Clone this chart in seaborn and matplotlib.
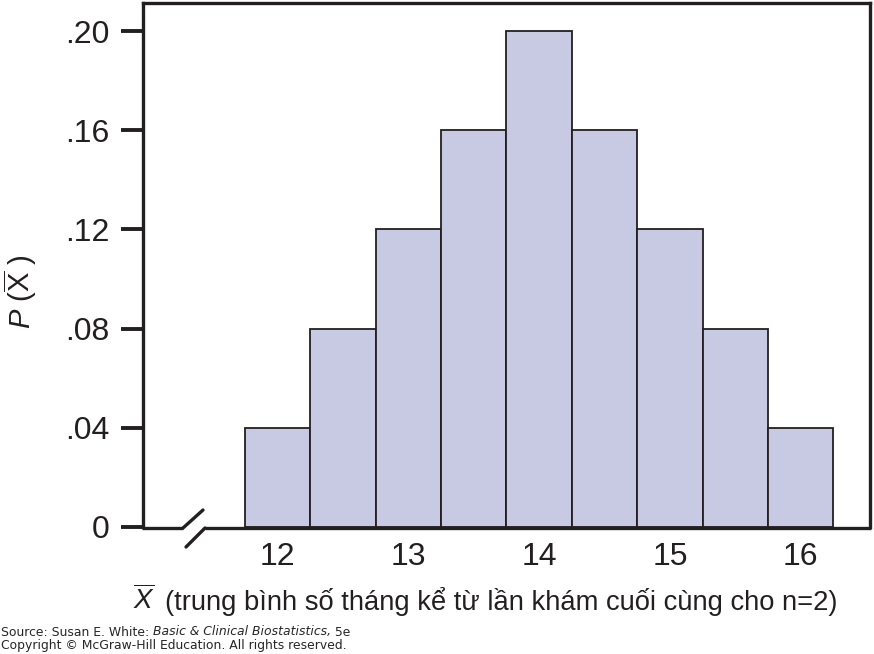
import matplotlib
matplotlib.use("Agg")
import matplotlib.pyplot as plt
import seaborn as sns
import pandas as pd

# mean number of months since last visit (n=2) and its probability
means = [12.0, 12.5, 13.0, 13.5, 14.0, 14.5, 15.0, 15.5, 16.0]
probs = [0.04, 0.08, 0.12, 0.16, 0.20, 0.16, 0.12, 0.08, 0.04]
y_ticks = [0, 0.04, 0.08, 0.12, 0.16, 0.20]
y_tick_labels = ["0", ".04", ".08", ".12", ".16", ".20"]
x_ticks = [12, 13, 14, 15, 16]
x_tick_labels = ["12", "13", "14", "15", "16"]

df = pd.DataFrame({"mean": means, "prob": probs})

sns.set_style("white")
plt.rcParams["font.family"] = ["Liberation Sans", "DejaVu Sans"]
plt.rcParams["mathtext.fontset"] = "custom"
plt.rcParams["mathtext.rm"] = "Liberation Sans"
plt.rcParams["mathtext.it"] = "Liberation Sans:italic"

fig = plt.figure(figsize=(8.74, 6.54), dpi=100)
W, H = 874, 654
ax = fig.add_axes([143 / W, (H - 527) / H, 727 / W, 524 / H])

# bins centred on each possible mean (width 0.5)
edges = [m - 0.25 for m in means] + [means[-1] + 0.25]
sns.histplot(data=df, x="mean", weights="prob", bins=edges, ax=ax,
             color="#c8c9e3", alpha=1, edgecolor="#231f20", linewidth=1.3)

c = "#231f20"
ax.set_xlim(10.97, 16.53)
ax.set_ylim(0, 0.2113)
ax.set_yticks(y_ticks)
ax.set_yticklabels(y_tick_labels)
ax.set_xticks(x_ticks)
ax.set_xticklabels(x_tick_labels)
ax.tick_params(axis="y", length=16, width=2.8, direction="out", pad=8,
               labelsize=23, color=c, left=True)
ax.tick_params(axis="x", length=0, pad=11, labelsize=23)
for lab in ax.get_xticklabels() + ax.get_yticklabels():
    lab.set_color(c)
ax.set_xlabel("")
ax.set_ylabel("")

for s in ax.spines.values():
    s.set_linewidth(2.4)
    s.set_color(c)
ax.spines["bottom"].set_visible(False)

# bottom axis with a break mark
def px(x, y):
    return x / W, (H - y) / H

lw = 2.4
fig.add_artist(plt.Line2D(*zip(px(142, 527.5), px(183, 527.5)), lw=lw, color=c, solid_capstyle="butt"))
fig.add_artist(plt.Line2D(*zip(px(205, 527.5), px(871, 527.5)), lw=lw, color=c, solid_capstyle="butt"))
fig.add_artist(plt.Line2D(*zip(px(183, 528), px(203, 510)), lw=lw, color=c))
fig.add_artist(plt.Line2D(*zip(px(186, 547), px(205, 528)), lw=lw, color=c))

# axis labels
fig.text(20 / W, (H - 292) / H, r"$P\ (\overline{\mathrm{X}}\ )$", rotation=90,
         ha="center", va="center", fontsize=21, color=c)
fig.text(133 / W, (H - 600) / H, r"$\overline{X}$", ha="left",
         va="center", fontsize=20, color=c)
fig.text(165 / W, (H - 602) / H,
         "(trung bình số tháng kể từ lần khám cuối cùng cho n=2)",
         ha="left", va="center", fontsize=19.7, color=c)

# source note
fs = 8.9
t1 = fig.text(1 / W, (H - 632) / H, "Source: Susan E. White: ", ha="left",
              va="center", fontsize=fs, family="DejaVu Sans")
fig.canvas.draw()
bb = t1.get_window_extent()
t2 = fig.text(bb.x1 / W, (H - 632) / H, "Basic & Clinical Biostatistics,",
              ha="left", va="center", fontsize=fs, family="DejaVu Sans",
              style="italic")
fig.canvas.draw()
bb2 = t2.get_window_extent()
fig.text(bb2.x1 / W, (H - 632) / H, " 5e", ha="left", va="center",
         fontsize=fs, family="DejaVu Sans")
fig.text(1 / W, (H - 646) / H,
         "Copyright © McGraw-Hill Education. All rights reserved.",
         ha="left", va="center", fontsize=fs, family="DejaVu Sans")

fig.savefig("out.png", dpi=100)
